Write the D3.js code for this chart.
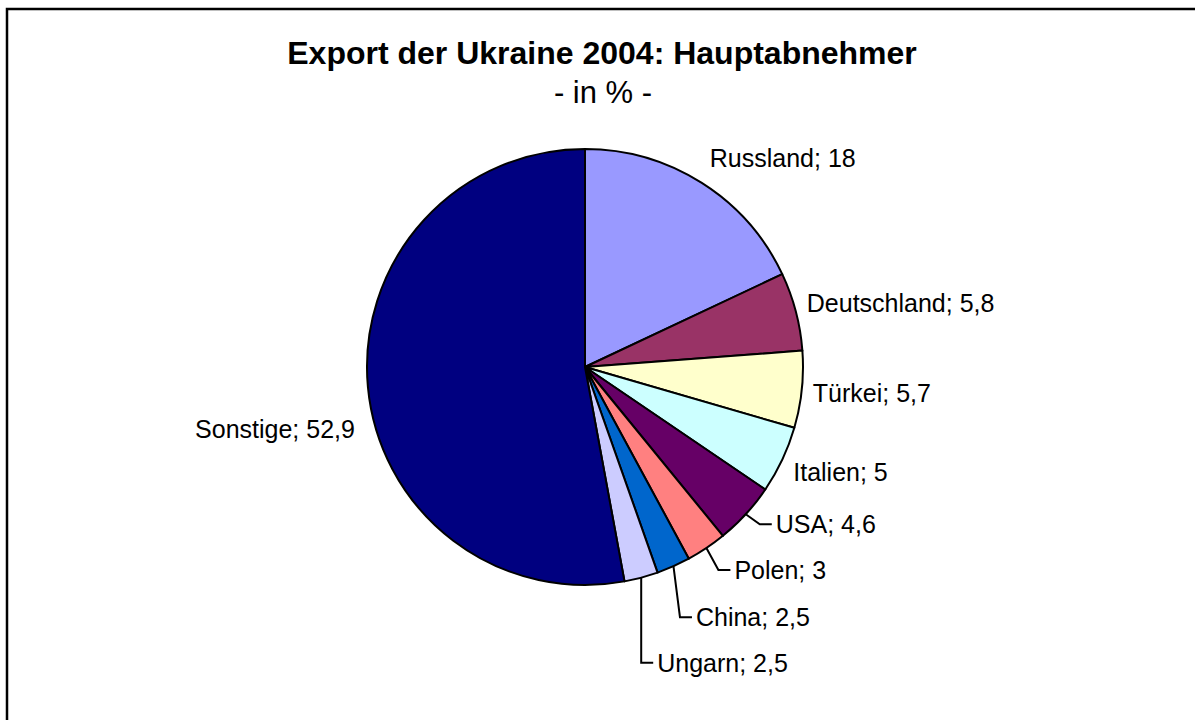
<!DOCTYPE html>
<html lang="de">
<head>
  <meta charset="utf-8">
  <title>Export der Ukraine 2004</title>
  <script src="https://d3js.org/d3.v7.min.js"></script>
  <style>
    body { margin: 0; background: #fff; }
    svg text { font-family: "Liberation Sans", Arial, sans-serif; fill: #000; }
  </style>
</head>
<body>
<div id="chart"></div>
<script>
  // data
  var countries = ["Russland", "Deutschland", "Türkei", "Italien", "USA", "Polen", "China", "Ungarn", "Sonstige"]
  var shares    = [18, 5.8, 5.7, 5, 4.6, 3, 2.5, 2.5, 52.9]
  var colors    = ["#9999FF", "#993366", "#FFFFCC", "#CCFFFF", "#660066", "#FF8080", "#0066CC", "#CCCCFF", "#000080"]

  var width = 1195
  var height = 720
  var cx = 585, cy = 367, radius = 218

  // label placement relative to the slice edge point (like Excel's moved labels)
  // leader: true -> elbow line to the label
  var labelLayout = [
    { dx: 8,   dy: -16, anchor: "start" },
    { dx: 11,  dy: 1,   anchor: "start" },
    { dx: 11,  dy: 12,  anchor: "start" },
    { dx: 11,  dy: 21,  anchor: "start" },
    { dx: 14,  dy: 10,  leader: true },
    { dx: 12,  dy: 22,  leader: true },
    { dx: 6.5, dy: 51,  leader: true },
    { dx: 0,   dy: 85,  leader: true },
    { dx: -13, dy: 51,  anchor: "end" }
  ]

  var data = countries.map(function(c, i) { return { name: c, value: shares[i], color: colors[i] } })

  var svg = d3.select("#chart").append("svg")
      .attr("width", width)
      .attr("height", height)

  // frame (right and bottom edge run off the picture)
  svg.append("rect")
      .attr("x", 7).attr("y", 9)
      .attr("width", width + 20).attr("height", height + 20)
      .attr("fill", "none")
      .attr("stroke", "#000")
      .attr("stroke-width", 2.5)

  // title
  svg.append("text")
      .attr("x", 602).attr("y", 64)
      .attr("text-anchor", "middle")
      .style("font-size", "32px")
      .style("font-weight", "bold")
      .text("Export der Ukraine 2004: Hauptabnehmer")
  svg.append("text")
      .attr("x", 603).attr("y", 103)
      .attr("text-anchor", "middle")
      .style("font-size", "31px")
      .text("- in % -")

  var pie = d3.pie()
      .sort(null)
      .value(function(d) { return d.value })

  var arc = d3.arc().innerRadius(0).outerRadius(radius)

  var arcs = pie(data)

  var g = svg.append("g").attr("transform", "translate(" + cx + "," + cy + ")")

  g.selectAll("path")
    .data(arcs)
    .enter()
    .append("path")
      .attr("d", arc)
      .attr("fill", function(d) { return d.data.color })
      .attr("stroke", "#000")
      .attr("stroke-width", 2)
      .attr("stroke-linejoin", "round")

  // point on the rim at the middle of a slice
  function edgePoint(d) {
    var a = (d.startAngle + d.endAngle) / 2
    return [radius * Math.sin(a), -radius * Math.cos(a)]
  }

  arcs.forEach(function(d, i) {
    var e = edgePoint(d)
    var L = labelLayout[i]
    var label = d.data.name + "; " + String(d.data.value).replace(".", ",")
    if (L.leader) {
      var ex = e[0] + L.dx, ey = e[1] + L.dy
      g.append("polyline")
        .attr("points", [e, [ex, ey], [ex + 12, ey]].map(function(p) { return p.join(",") }).join(" "))
        .attr("fill", "none")
        .attr("stroke", "#000")
        .attr("stroke-width", 2)
      g.append("text")
        .attr("x", ex + 16)
        .attr("y", ey + 9)
        .style("font-size", "25px")
        .text(label)
    } else {
      g.append("text")
        .attr("x", e[0] + L.dx)
        .attr("y", e[1] + L.dy)
        .attr("text-anchor", L.anchor)
        .style("font-size", "25px")
        .text(label)
    }
  })
</script>
</body>
</html>
